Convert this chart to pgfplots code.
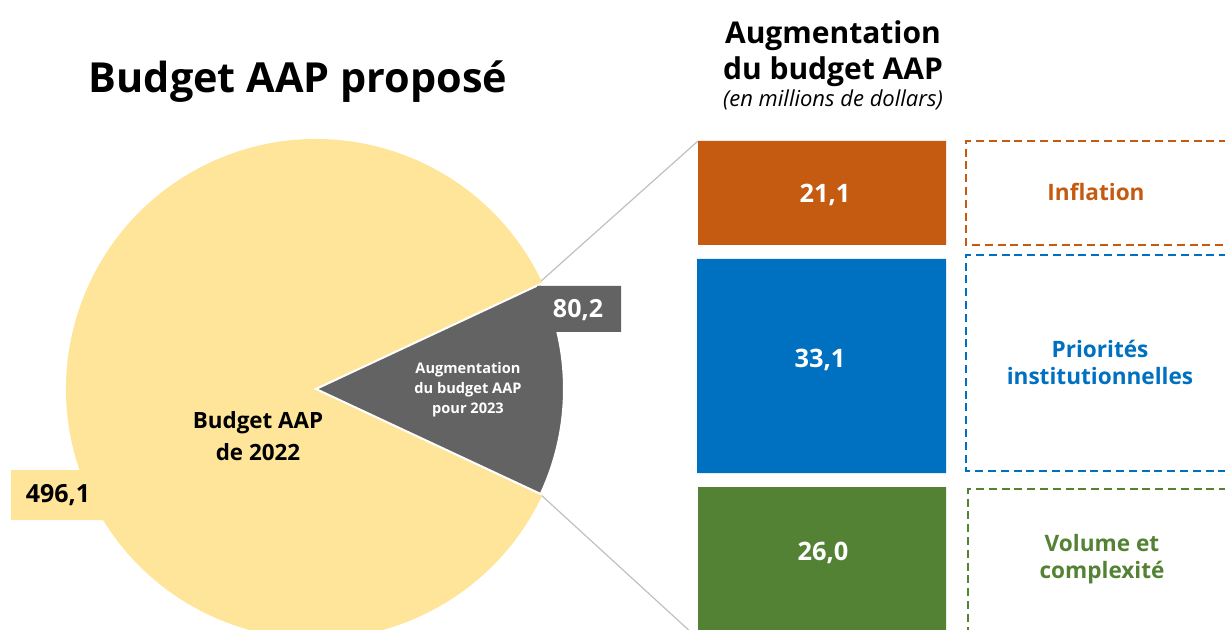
\documentclass[border=0pt]{standalone}
\usepackage{pgfplots}
\pgfplotsset{compat=1.18}
\usepackage{fontspec}
\setmainfont{Open Sans}

\definecolor{piey}{HTML}{FFE599}
\definecolor{pieg}{HTML}{636363}
\definecolor{corange}{HTML}{C55A11}
\definecolor{cblue}{HTML}{0070C0}
\definecolor{cgreen}{HTML}{548235}
\definecolor{cline}{HTML}{C0C0C0}

% pie values (millions)
\def\budget{496.1}
\def\augm{80.2}

\begin{document}
\begin{tikzpicture}
\pgfmathsetmacro\half{180*\augm/(\budget+\augm)}
\pgfmathsetmacro\rest{360-\half}
\begin{axis}[
hide axis,
scale only axis,
width=612.5pt, height=315pt,
xmin=0, xmax=1225,
ymin=0, ymax=630,
y dir=reverse,
clip=true,
]
% connector lines
\addplot [cline, line width=0.6pt] coordinates {(540,282) (698,141)};
\addplot [cline, line width=0.6pt] coordinates {(540,494) (705,645)};

% value boxes behind the pie
\addplot [fill=piey, draw=none] coordinates {(11,470) (120,470) (120,520) (11,520) (11,470)};

% pie
\fill [piey] (axis cs:316,389) -- ++(\half:125pt) arc [start angle=\half, end angle=\rest, radius=125pt] -- cycle;
\filldraw [fill=pieg, draw=white, line width=1pt] (axis cs:316,389) -- ++(-\half:124pt) arc [start angle=-\half, end angle=\half, radius=124pt] -- cycle;

\addplot [fill=pieg, draw=none] coordinates {(537,286) (621,286) (621,332) (537,332) (537,286)};

% bars
\addplot [fill=corange, draw=none] coordinates {(698,141) (946,141) (946,245) (698,245) (698,141)};
\addplot [fill=cblue, draw=none] coordinates {(697,259) (946,259) (946,473) (697,473) (697,259)};
\addplot [fill=cgreen, draw=none] coordinates {(698,487) (946,487) (946,640) (698,640) (698,487)};

% dashed label frames
\addplot [corange, line width=1.15pt, dash pattern=on 4pt off 2.4pt] coordinates {(1240,141) (966,141) (966,245) (1240,245)};
\addplot [cblue, line width=1.15pt, dash pattern=on 4pt off 2.4pt] coordinates {(1240,255) (966,255) (966,471) (1240,471)};
\addplot [cgreen, line width=1.15pt, dash pattern=on 4pt off 2.4pt] coordinates {(1240,489) (968,489) (968,650)};

% texts
\node [font=\bfseries\fontsize{20.7}{24}\selectfont] at (axis cs:298,82) {Budget AAP proposé};
\node [font=\bfseries\fontsize{15}{18}\selectfont, align=center] at (axis cs:833,54) {Augmentation\\du budget AAP};
\node [font=\itshape\fontsize{11}{13}\selectfont] at (axis cs:833,100) {(en millions de dollars)};

\node [font=\bfseries\fontsize{12.5}{15}\selectfont] at (axis cs:58,495) {496,1};
\node [font=\bfseries\fontsize{12.5}{15}\selectfont, white] at (axis cs:578,310) {80,2};
\node [font=\bfseries\fontsize{11.2}{16}\selectfont, align=center] at (axis cs:258,436) {Budget AAP\\de 2022};
\node [font=\bfseries\fontsize{7.3}{10}\selectfont, align=center, white] at (axis cs:468,390) {Augmentation\\du budget AAP\\pour 2023};

\node [font=\bfseries\fontsize{12.7}{15}\selectfont, white] at (axis cs:825,195) {21,1};
\node [font=\bfseries\fontsize{12.7}{15}\selectfont, white] at (axis cs:820,360) {33,1};
\node [font=\bfseries\fontsize{12.7}{15}\selectfont, white] at (axis cs:823,553) {26,0};

\node [font=\bfseries\fontsize{11.3}{13.5}\selectfont, corange] at (axis cs:1096,192) {Inflation};
\node [font=\bfseries\fontsize{11.3}{13.5}\selectfont, cblue, align=center] at (axis cs:1100,362) {Priorités\\institutionnelles};
\node [font=\bfseries\fontsize{11.3}{13.5}\selectfont, cgreen, align=center] at (axis cs:1102,559) {Volume et\\complexité};
\end{axis}
\pgfresetboundingbox
\useasboundingbox (0,0) rectangle (612.5pt,315pt);
\end{tikzpicture}
\end{document}
